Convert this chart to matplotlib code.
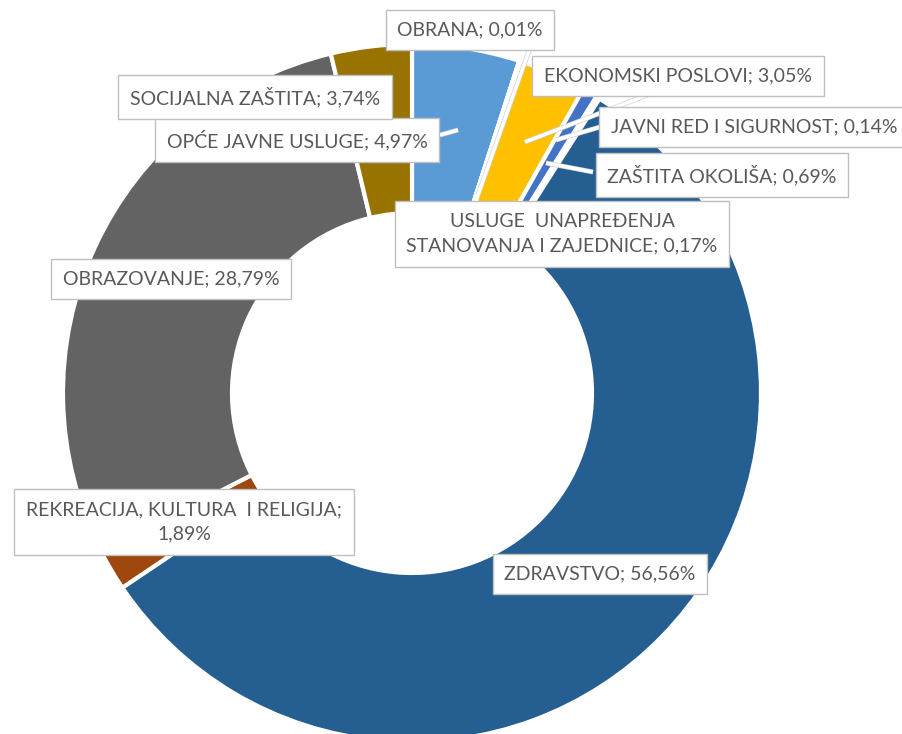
import matplotlib
matplotlib.use("Agg")
import matplotlib.pyplot as plt
import matplotlib.patheffects as pe

# podaci (redoslijed kao u izvorniku, u smjeru kazaljke od vrha)
categories = ["OPĆE JAVNE USLUGE", "OBRANA", "JAVNI RED I SIGURNOST",
              "EKONOMSKI POSLOVI", "ZAŠTITA OKOLIŠA",
              "USLUGE  UNAPREĐENJA\nSTANOVANJA I ZAJEDNICE", "ZDRAVSTVO",
              "REKREACIJA, KULTURA  I RELIGIJA;\n", "OBRAZOVANJE",
              "SOCIJALNA ZAŠTITA"]
shares = [4.97, 0.01, 0.14, 3.05, 0.69, 0.17, 56.56, 1.89, 28.79, 3.74]
colors = ["#5B9BD5", "#ED7D31", "#A5A5A5", "#FFC000", "#4472C4",
          "#70AD47", "#255E91", "#9E480E", "#636363", "#997300"]

W, H = 902, 734
fig = plt.figure(figsize=(W / 100, H / 100), dpi=100)
ax = fig.add_axes([0, 0, 1, 1])

cx, cy = 412, H - 393
r_out, r_in = 349, 180
ax.pie(shares, colors=colors, startangle=90, counterclock=False,
       center=(cx, cy), radius=r_out,
       wedgeprops=dict(width=r_out - r_in, edgecolor="white", linewidth=3))
ax.set_xlim(0, W)
ax.set_ylim(0, H)
ax.set_aspect("auto")
ax.axis("off")


def label_text(i):
    name = categories[i]
    val = f"{shares[i]:.2f}".replace(".", ",") + "%"
    if name.endswith(";\n"):
        return name + val
    return name + "; " + val


# pozicije oznaka (piksel, y od vrha) i krajevi linija vodilica
label_pos = {
    0: (297, 140), 1: (470, 30), 2: (754, 127), 3: (678, 76), 4: (722, 175),
    5: (562, 234), 6: (600, 574), 7: (184, 522), 8: (171, 279), 9: (255, 97),
}
leaders = {
    1: ((530, 48), (478, 195)),
    3: ((650, 94), (525, 142)),
    2: ((600, 127), (556, 140)),
    4: ((593, 172), (546, 163)),
    9: ((355, 115), (390, 128)),
    0: ((440, 135), (458, 130)),
}

for i, ((x0, y0), (x1, y1)) in leaders.items():
    ax.plot([x0, x1], [H - y0, H - y1], color="white", lw=2.5, zorder=3,
            solid_capstyle="butt",
            path_effects=[pe.Stroke(linewidth=3.5, foreground="#D0D0D0"), pe.Normal()])

for i, (x, y) in label_pos.items():
    ax.text(x, H - y, label_text(i), ha="center", va="center",
            fontsize=14, family=["Lato", "DejaVu Sans"], color="#595959",
            linespacing=1.55, zorder=5,
            bbox=dict(boxstyle="square,pad=0.6", fc="white", ec="#BFBFBF", lw=1))

fig.savefig("out.png", dpi=100)
